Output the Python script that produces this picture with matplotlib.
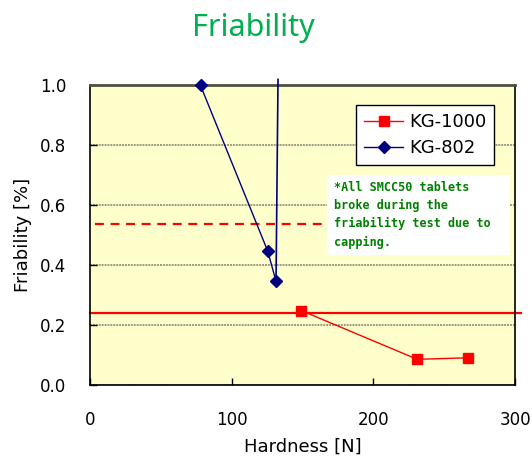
import matplotlib.pyplot as plt
from matplotlib.patches import Rectangle
from matplotlib.ticker import FormatStrFormatter

# data
kg1000_hardness = [149, 231, 267]
kg1000_friability = [0.248, 0.085, 0.09]

kg802_hardness = [78, 125.4, 131.3]
kg802_friability = [1.0, 0.447, 0.346]
# KG-802 line continues above the top of the axis
kg802_tail_hardness = [131.3, 132.7]
kg802_tail_friability = [0.346, 1.02]

kg1000_limit = 0.24     # solid red reference line
smcc50_limit = 0.537    # dashed red reference line

x_ticks = [0, 100, 200, 300]
y_ticks = [0.0, 0.2, 0.4, 0.6, 0.8, 1.0]

note_text = "*All SMCC50 tablets\nbroke during the\nfriability test due to\ncapping."

fig = plt.figure(figsize=(5.32, 4.63), dpi=100)
ax = fig.add_axes([0.1692, 0.169, 0.7989, 0.6465])
ax.set_facecolor('#FFFFCC')

ax.set_xlim(0, 300)
ax.set_ylim(0, 1.0)
ax.set_xticks(x_ticks)
ax.set_yticks(y_ticks)
ax.yaxis.set_major_formatter(FormatStrFormatter('%.1f'))
ax.tick_params(direction='in', length=5, width=1, labelsize=12, pad=17)
ax.tick_params(axis='x', pad=19)
ax.grid(True, axis='y', color='#9A9A84', linewidth=1.4, linestyle=(0, (1, 0.5)))
ax.set_axisbelow(True)
for side in ['left', 'bottom', 'right']:
    ax.spines[side].set_color('black')
    ax.spines[side].set_linewidth(1.2)
ax.spines['top'].set_color('#505040')
ax.spines['top'].set_linewidth(2)

# reference lines
ax.plot([0, 304], [kg1000_limit, kg1000_limit], color='#FF0000', linewidth=1.6,
        clip_on=False, zorder=2)
ax.plot([3.5, 170], [smcc50_limit, smcc50_limit], color='#FF0000', linewidth=1.6,
        linestyle=(0, (4, 3)), zorder=2)

ax.plot(kg1000_hardness, kg1000_friability, color='#FF0000', linewidth=1,
        marker='s', markersize=7.5, label='KG-1000', zorder=4)
ax.plot(kg802_hardness, kg802_friability, color='#000080', linewidth=1,
        marker='D', markersize=6.5, label='KG-802', zorder=4, clip_on=False)
ax.plot(kg802_tail_hardness, kg802_tail_friability, color='#000080', linewidth=1.2,
        clip_on=False, zorder=4)

leg = ax.legend(loc='upper right', bbox_to_anchor=(0.951, 0.935), borderaxespad=0,
                fancybox=False, edgecolor='black', framealpha=1, fontsize=13,
                handlelength=2.2, handletextpad=0.3, borderpad=0.45, labelspacing=0.45)
leg.get_frame().set_linewidth(1)

# white note box
ax.add_patch(Rectangle((0.558, 0.434), 0.43, 0.267, transform=ax.transAxes,
                       facecolor='white', edgecolor='none', zorder=5))
ax.text(0.573, 0.68, note_text, transform=ax.transAxes, family='DejaVu Sans Mono',
        fontsize=8.5, fontweight='bold', color='#008000', linespacing=1.5,
        va='top', ha='left', zorder=6)

ax.set_xlabel('Hardness [N]', fontsize=13, labelpad=6)
ax.set_ylabel('Friability [%]', fontsize=13, labelpad=6)

fig.text(0.476, 0.94, 'Friability', fontsize=22, color='#00B050', family='Noto Sans',
         ha='center', va='center')

fig.savefig('out.png', dpi=100)
